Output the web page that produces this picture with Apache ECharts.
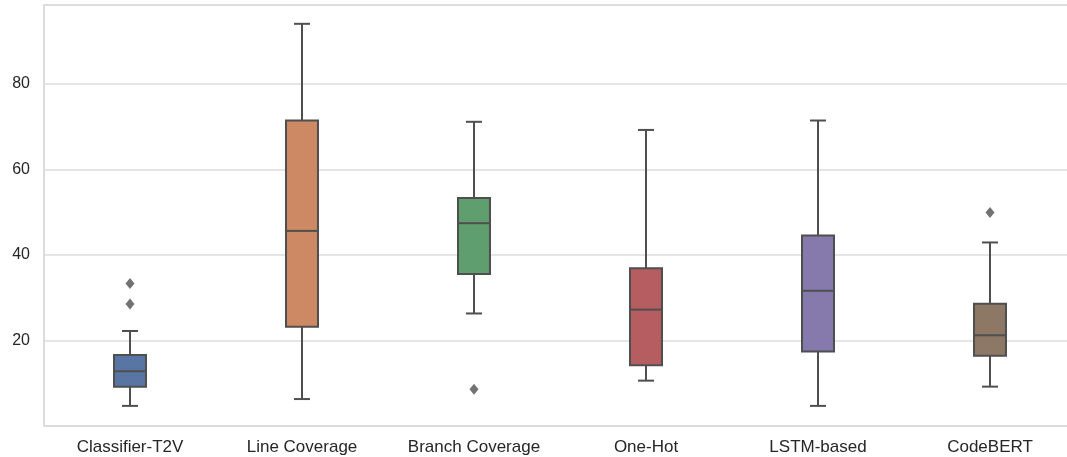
<!DOCTYPE html>
<html>
<head>
<meta charset="utf-8">
<script src="https://cdn.jsdelivr.net/npm/echarts@6/dist/echarts.min.js"></script>
<style>
html,body{margin:0;padding:0;background:#fff;overflow:hidden;}
#chart{width:1090px;height:457px;}
</style>
</head>
<body>
<div id="chart"></div>
<script>
// ---- data ----
const categories = ['Classifier-T2V', 'Line Coverage', 'Branch Coverage', 'One-Hot', 'LSTM-based', 'CodeBERT'];
const whiskerLow = [4.7, 6.3, 26.3, 10.6, 4.7, 9.2];
const q1         = [9.2, 23.2, 35.5, 14.2, 17.4, 16.4];
const medians    = [12.8, 45.6, 47.4, 27.2, 31.6, 21.2];
const q3         = [16.6, 71.4, 53.3, 36.9, 44.5, 28.6];
const whiskerHigh= [22.2, 94.0, 71.1, 69.2, 71.4, 42.9];
const outliers   = [[33.3, 28.5], [], [8.6], [], [], [49.9]];
const yTicks = [20, 40, 60, 80];

// ---- styles ----
const palette = ['#5975a4', '#cc8963', '#5f9e6e', '#b55d60', '#857aab', '#8d7866'];
const lineColor = '#4f4f4f';
const gridColor = '#dcdcdc';

const boxData = categories.map((c, i) => [i, whiskerLow[i], q1[i], medians[i], q3[i], whiskerHigh[i]]);
const outlierData = [];
outliers.forEach((arr, i) => arr.forEach(v => outlierData.push([i, v])));

const chart = echarts.init(document.getElementById('chart'), null, {renderer: 'canvas'});

function renderBox(params, api) {
  const idx = api.value(0);
  const lo = api.coord([idx, api.value(1)]);
  const b1 = api.coord([idx, api.value(2)]);
  const md = api.coord([idx, api.value(3)]);
  const b3 = api.coord([idx, api.value(4)]);
  const hi = api.coord([idx, api.value(5)]);
  const band = api.size([1, 0])[0];
  const hw = band * 0.093;
  const cw = hw * 0.5;
  const x = lo[0];
  const ls = {stroke: lineColor, lineWidth: 2};
  return {
    type: 'group',
    children: [
      {type: 'line', shape: {x1: x, y1: b1[1], x2: x, y2: lo[1]}, style: ls},
      {type: 'line', shape: {x1: x, y1: b3[1], x2: x, y2: hi[1]}, style: ls},
      {type: 'line', shape: {x1: x - cw, y1: lo[1], x2: x + cw, y2: lo[1]}, style: ls},
      {type: 'line', shape: {x1: x - cw, y1: hi[1], x2: x + cw, y2: hi[1]}, style: ls},
      {type: 'rect', shape: {x: x - hw, y: b3[1], width: hw * 2, height: b1[1] - b3[1]},
        style: {fill: palette[params.dataIndex % palette.length], stroke: lineColor, lineWidth: 2}},
      {type: 'line', shape: {x1: x - hw, y1: md[1], x2: x + hw, y2: md[1]}, style: ls}
    ]
  };
}

const borderLine = {show: true, lineStyle: {color: gridColor, width: 2}};

chart.setOption({
  animation: false,
  backgroundColor: '#ffffff',
  grid: {
    left: 44, top: 5, width: 1032, height: 421,
    show: false, containLabel: false
  },
  xAxis: [{
    type: 'category',
    data: categories,
    boundaryGap: true,
    axisLine: borderLine,
    axisTick: {show: false},
    axisLabel: {
      interval: 0, margin: 13, color: '#262626', fontSize: 17,
      fontFamily: 'Liberation Sans, Arial, sans-serif'
    },
    splitLine: {show: false}
  }, {
    type: 'category',
    position: 'top',
    data: categories,
    axisLine: borderLine,
    axisTick: {show: false},
    axisLabel: {show: false},
    splitLine: {show: false}
  }],
  yAxis: {
    type: 'value',
    min: 0, max: 98.4, interval: 20,
    axisLine: borderLine,
    axisTick: {show: false},
    axisLabel: {
      margin: 14, color: '#262626', fontSize: 16,
      fontFamily: 'Liberation Sans, Arial, sans-serif',
      formatter: v => (yTicks.indexOf(v) >= 0 ? String(v) : '')
    },
    splitLine: {show: true, lineStyle: {color: gridColor, width: 1.5}}
  },
  series: [
    {
      type: 'custom',
      renderItem: renderBox,
      encode: {x: 0, y: [1, 2, 3, 4, 5]},
      data: boxData,
      z: 3
    },
    {
      type: 'scatter',
      data: outlierData,
      symbol: 'diamond',
      symbolSize: [9, 11],
      itemStyle: {color: lineColor},
      z: 4
    }
  ]
});
</script>
</body>
</html>
